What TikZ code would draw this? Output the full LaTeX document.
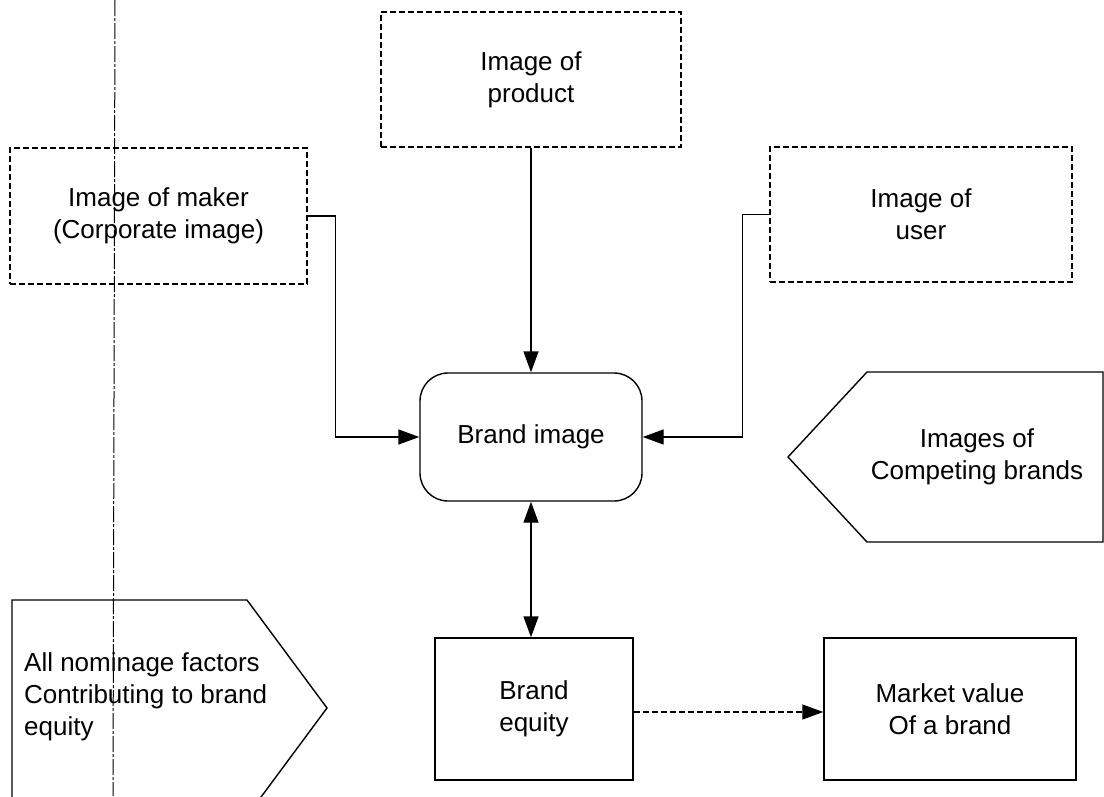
\documentclass[tikz,border=0pt]{standalone}
\usepackage{fontspec}
\setmainfont{Liberation Sans}
\usetikzlibrary{arrows.meta}
\begin{document}
\begin{tikzpicture}[x=1pt,y=-1pt,
  every node/.style={font=\fontsize{26}{32}\selectfont, align=center, inner sep=0pt},
  dbox/.style={draw, line width=1.3pt, dash pattern=on 6pt off 3pt, minimum width=#1},
  sbox/.style={draw, line width=1.4pt},
  conn/.style={line width=1.4pt, -{Triangle[length=21pt,width=15pt]}},
  guide/.style={line width=1pt, black, dash pattern=on 16pt off 2pt on 3pt off 2pt}]
\useasboundingbox (0,0) rectangle (1104,796);
\fill[white] (0,0) rectangle (1104,796);
\begin{scope}
\clip (0,0) rectangle (1104,796);

% guide line
\coordinate (gtop) at (115,0);
\coordinate (gbot) at (113,796);
\draw[guide] (gtop) -- (gbot);

% top dashed boxes
\node[dbox=297pt, minimum height=136pt] (maker) at (158.5,216) {Image of maker\\(Corporate image)};
\node[dbox=300pt, minimum height=135pt] (product) at (531,79.5) {Image of\\product};
\node[dbox=302pt, minimum height=135pt] (user) at (921,214.5) {Image of\\user};

% brand image
\node[sbox, rounded corners=28pt, minimum width=222pt, minimum height=128pt] (brand) at (531,437) {Brand image};

% brand equity and market value
\node[sbox, minimum width=198pt, minimum height=142pt] (equity) at (534,709) {Brand\\equity};
\node[sbox, minimum width=252pt, minimum height=142pt] (market) at (950,709) {Market value\\Of a brand};

% competing brands pentagon
\draw[line width=1.4pt] (1103,372) -- (867,372) -- (788,457) -- (867,542) -- (1103,542) -- cycle;
\node (comp) at (977,457) {Images of\\Competing brands};

% nominage factors pentagon
\draw[line width=1.4pt] (12,810) -- (12,600) -- (247,600) -- (327,708) -- (244,820);
\node[align=left, anchor=west] (nom) at (24,697) {All nominage factors\\Contributing to brand\\equity};

% connectors
\draw[conn] (maker.east) -- ++(28,0) |- (brand.west);
\draw[conn] (user.west) -- ++(-27,0) |- (brand.east);
\draw[conn] (product.south) -- (brand.north);
\draw[line width=1.4pt, {Triangle[length=21pt,width=15pt]}-{Triangle[length=21pt,width=15pt]}] (brand.south) -- (brand.south |- equity.north);
\draw[line width=1.3pt, dash pattern=on 6pt off 3pt, -{Triangle[length=21pt,width=15pt]}] (equity.east |- 0,712) -- (market.west |- 0,712);
\end{scope}
\end{tikzpicture}
\end{document}
